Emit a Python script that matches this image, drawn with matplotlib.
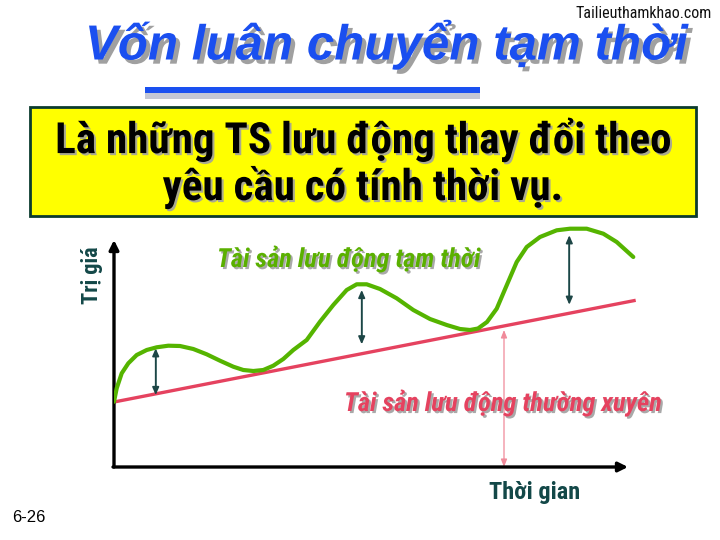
import matplotlib
matplotlib.use("Agg")
import matplotlib.pyplot as plt
import matplotlib.patheffects as pe
from matplotlib.patches import Rectangle

# du lieu doc tu hinh (thoi gian, tri gia)
t_green = [0, 0.27, 0.77, 1.43, 2.27, 3.27, 4.27, 5.43, 6.6, 7.93, 9.27, 10.6,
           11.93, 12.93, 13.93, 14.93, 15.93, 16.93, 17.93, 19.27, 20.6, 21.93,
           23.27, 24.27, 25.27, 26.6, 28.27, 29.93, 31.6, 33.27, 34.6, 35.6,
           36.4, 37.3, 38.27, 39.27, 40.27, 41.27, 42.6, 44.27, 45.6, 47.27,
           48.93, 50.27, 51.93]
v_green = [6.53, 7.87, 9.37, 10.37, 11.2, 11.7, 11.97, 12.13, 12.1, 11.8, 11.27,
           10.63, 10.03, 9.7, 9.6, 9.7, 10.13, 10.8, 11.7, 12.7, 14.53, 16.2,
           17.7, 18.27, 18.27, 17.8, 16.87, 15.7, 14.8, 14.2, 13.8, 13.7,
           13.85, 14.5, 15.83, 18.17, 20.5, 22.0, 23.0, 23.67, 23.83, 23.83,
           23.33, 22.5, 21.0]
t_red = [0, 52.17]
v_red = [6.5, 16.67]

# mui ten hai dau giua hai duong
arrow_t = [4.17, 24.77, 45.53]
arrow_low = [7.2, 12.27, 16.23]
arrow_high = [11.87, 17.7, 23.17]
pink_t = 39.0
pink_high = 13.7

title = "Vốn luân chuyển tạm thời"
box_lines = ["Là những TS lưu động thay đổi theo", "yêu cầu có tính thời vụ."]
lbl_green = "Tài sản lưu động tạm thời"
lbl_red = "Tài sản lưu động thường xuyên"

narrow = ["Roboto Condensed", "DejaVu Sans"]
shadow = [pe.withSimplePatchShadow(offset=(1.5, -1.5), shadow_rgbFace="#a0a0a0", alpha=0.9)]

fig = plt.figure(figsize=(7.2, 5.4), dpi=100)
bg = fig.add_axes([0, 0, 1, 1])
bg.set_xlim(0, 720)
bg.set_ylim(540, 0)
bg.axis("off")

# tieu de
bg.text(386, 45, title, fontsize=35.5, fontweight="bold", fontstyle="italic",
        family=["Liberation Sans", "DejaVu Sans"], color="#1a4ff0", ha="center", va="center",
        path_effects=[pe.withSimplePatchShadow(offset=(3, -3), shadow_rgbFace="#a0a0a0", alpha=1)])
bg.add_patch(Rectangle((145, 93), 335, 6, color="#c4c7d4", lw=0))
bg.add_patch(Rectangle((145, 87), 335, 6, color="#1a50f0", lw=0))
bg.text(712, 14, "Tailieuthamkhao.com", fontsize=11.5, family=narrow,
        color="#111111", ha="right", va="center")

# hop vang
bg.add_patch(Rectangle((30, 107), 666, 109, facecolor="#ffff00", edgecolor="#0b3b2e", lw=2))
bg.text(363, 140, box_lines[0], fontsize=31, fontweight="bold", family=narrow,
        ha="center", va="center", color="black", path_effects=shadow)
bg.text(363, 187, box_lines[1], fontsize=31, fontweight="bold", family=narrow,
        ha="center", va="center", color="black", path_effects=shadow)

bg.text(12, 518, "6-26", fontsize=12, family="Liberation Sans", ha="left", va="center")

# bieu do
ax = fig.add_axes([114 / 720, 73 / 540, 526 / 720, 242 / 540])
ax.set_xlim(0, 52.6)
ax.set_ylim(0, 24.2)
ax.axis("off")

ax.plot(t_red, v_red, color="#e5425f", lw=2.4, solid_capstyle="butt", zorder=3)
ax.plot(t_green, v_green, color="#55b400", lw=3, solid_capstyle="round",
        solid_joinstyle="round", zorder=4)

for t, lo, hi in zip(arrow_t, arrow_low, arrow_high):
    ax.annotate("", xy=(t, hi), xytext=(t, lo),
                arrowprops=dict(arrowstyle="<|-|>,head_length=0.5,head_width=0.22",
                                color="#1d4646", lw=1.2, mutation_scale=9,
                                shrinkA=0, shrinkB=0))
    ax.plot([t, t], [lo + 0.6, hi - 0.6], color="#7a9e9e", lw=1.4, zorder=2)
ax.annotate("", xy=(pink_t, pink_high), xytext=(pink_t, 0),
            arrowprops=dict(arrowstyle="<|-|>,head_length=0.5,head_width=0.2",
                            color="#f08a9a", lw=0.9, mutation_scale=9,
                            shrinkA=0, shrinkB=0))

# truc
ax.annotate("", xy=(0, 22.7), xytext=(0, 0), annotation_clip=False,
            arrowprops=dict(arrowstyle="-|>", color="black", lw=2.4,
                            mutation_scale=14, shrinkA=0, shrinkB=0))
ax.annotate("", xy=(51.4, 0), xytext=(-0.1, 0), annotation_clip=False,
            arrowprops=dict(arrowstyle="-|>", color="black", lw=2.4,
                            mutation_scale=14, shrinkA=0, shrinkB=0))

ax.text(10.3, 20.8, lbl_green, fontsize=19, fontweight="bold", fontstyle="italic",
        family=narrow, color="#5ab000", ha="left", va="center", path_effects=shadow)
ax.text(23.0, 6.4, lbl_red, fontsize=19, fontweight="bold", fontstyle="italic",
        family=narrow, color="#e5425f", ha="left", va="center", path_effects=shadow)

bg.text(92, 275, "Trị giá", fontsize=16, fontweight="bold", family=narrow,
        color="#134848", rotation=90, ha="center", va="center")
bg.text(535, 493, "Thời gian", fontsize=17.5, fontweight="bold", family=narrow,
        color="#134848", ha="center", va="center")

fig.savefig("out.png", dpi=100)
